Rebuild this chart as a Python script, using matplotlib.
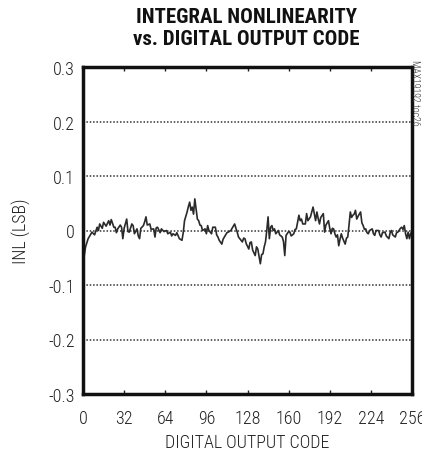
import matplotlib
matplotlib.use("Agg")
import matplotlib.pyplot as plt
from matplotlib import font_manager

# INL trace (code, LSB)
codes = [0, 1, 2, 4, 7, 9, 11, 12, 13, 15, 16, 18, 20, 21, 22, 24, 25, 26, 27, 29,
         30, 31, 32, 34, 35, 36, 38, 39, 40, 42, 43, 44, 45, 47, 48, 49, 50, 52, 53, 55,
         56, 57, 58, 60, 61, 63, 65, 66, 68, 69, 70, 72, 73, 75, 77, 78, 79, 80, 81, 82,
         83, 84, 85, 86, 87, 88, 89, 90, 91, 92, 93, 95, 96, 97, 98, 100, 101, 103, 104, 105,
         106, 108, 109, 110, 112, 113, 115, 117, 118, 119, 120, 121, 122, 124, 125, 126, 127, 129, 130, 131,
         132, 134, 135, 136, 137, 138, 139, 140, 141, 142, 143, 144, 145, 146, 147, 148, 149, 150, 152, 153,
         155, 156, 157, 158, 160, 161, 162, 164, 165, 166, 167, 168, 169, 170, 171, 173, 174, 175, 177, 178,
         179, 180, 181, 182, 183, 184, 185, 187, 188, 189, 191, 192, 193, 194, 195, 196, 197, 198, 199, 200,
         201, 202, 204, 205, 206, 207, 208, 209, 210, 211, 212, 213, 214, 216, 217, 218, 219, 220, 221, 222,
         223, 225, 226, 227, 228, 230, 231, 232, 233, 235, 236, 238, 239, 240, 241, 243, 244, 245, 247, 248,
         249, 250, 251, 252, 253, 254, 255]
inl = [-0.068, -0.045, -0.030, -0.015, -0.003, -0.008, 0.006, 0.000, 0.012, 0.004, 0.015, 0.008, 0.018, 0.010, 0.020, 0.006, 0.006, -0.004, 0.003, 0.010,
       0.006, -0.015, 0.004, 0.021, -0.002, -0.003, 0.012, 0.009, -0.006, 0.003, -0.010, -0.015, 0.004, 0.009, 0.016, 0.025, 0.010, 0.012, 0.002, 0.003,
       -0.012, 0.005, 0.006, -0.004, 0.003, -0.002, 0.000, -0.006, -0.003, -0.010, -0.006, -0.009, -0.004, -0.015, -0.018, -0.004, 0.018, 0.026, 0.034, 0.044,
       0.052, 0.037, 0.043, 0.030, 0.058, 0.040, 0.021, 0.018, 0.010, 0.009, 0.000, 0.003, -0.006, 0.009, 0.000, -0.006, 0.006, 0.006, -0.008, -0.012,
       -0.018, -0.025, -0.016, -0.012, -0.004, -0.003, 0.000, 0.008, 0.012, 0.004, -0.003, -0.012, -0.015, -0.021, -0.014, -0.015, -0.024, -0.034, -0.022, -0.021,
       -0.036, -0.046, -0.030, -0.034, -0.048, -0.061, -0.044, -0.043, -0.030, -0.021, 0.000, 0.025, -0.015, 0.006, 0.009, 0.000, 0.003, -0.006, 0.000, -0.008,
       -0.012, -0.020, -0.046, -0.009, -0.002, -0.003, -0.010, -0.006, 0.002, 0.003, 0.016, 0.028, 0.018, 0.021, 0.012, 0.012, 0.031, 0.018, 0.025, 0.034,
       0.043, 0.030, 0.018, 0.034, 0.022, 0.012, 0.024, 0.031, -0.003, 0.010, 0.018, 0.004, -0.006, 0.004, 0.003, -0.006, -0.012, -0.008, -0.028, -0.016,
       -0.006, -0.014, -0.025, -0.014, -0.012, 0.010, 0.034, 0.024, 0.028, 0.030, 0.037, 0.021, 0.026, 0.034, 0.014, 0.009, 0.002, 0.003, -0.004, -0.006,
       0.000, 0.003, -0.006, -0.009, 0.000, 0.000, -0.008, -0.012, -0.004, -0.003, -0.010, -0.015, -0.004, 0.000, -0.008, -0.012, -0.004, -0.003, 0.004, 0.006,
       0.002, 0.009, -0.006, -0.015, -0.003, -0.015, -0.005]

xticks = [0, 32, 64, 96, 128, 160, 192, 224, 256]
yticks = [-0.3, -0.2, -0.1, 0, 0.1, 0.2, 0.3]
ytick_labels = ["-0.3", "-0.2", "-0.1", "0", "0.1", "0.2", "0.3"]

# look for a narrow font, fall back to DejaVu condensed stretch
names = {f.name for f in font_manager.fontManager.ttflist}
narrow = None
for cand in ["Roboto Condensed", "Liberation Sans Narrow", "Open Sans Condensed", "Noto Sans Condensed"]:
    if cand in names:
        narrow = cand
        break
if narrow is None:
    narrow = "DejaVu Sans"
    plt.rcParams['font.stretch'] = 'condensed'
plt.rcParams['font.family'] = [narrow, 'DejaVu Sans']

fig = plt.figure(figsize=(4.22, 4.56), dpi=100)
ax = fig.add_axes([83/422, 1 - 395/456, 329/422, 327/456])

for y in [-0.2, -0.1, 0, 0.1, 0.2]:
    ax.axhline(y, color='#333333', lw=1.1, linestyle=(0, (1, 1.2)), zorder=1)

ax.plot(codes, inl, color='#2a2a2a', lw=1.2, zorder=2)

ax.set_xlim(0, 256)
ax.set_ylim(-0.3, 0.3)
ax.set_xticks(xticks)
ax.set_xticklabels([str(t) for t in xticks])
ax.set_yticks(yticks)
ax.set_yticklabels(ytick_labels)
ax.tick_params(direction='in', length=3, width=1, top=True, right=False, left=False,
               labelsize=13, colors='#222222')
ax.tick_params(axis='x', pad=11)
ax.tick_params(axis='y', pad=6)
for lab in ax.get_xticklabels() + ax.get_yticklabels():
    lab.set_fontweight('light')
for s in ax.spines.values():
    s.set_linewidth(2.5)
    s.set_color('#111111')

ax.set_xlabel('DIGITAL OUTPUT CODE', fontsize=13, fontweight='light', color='#222222', labelpad=4)
ax.set_ylabel('INL (LSB)', fontsize=13, fontweight='light', color='#222222', labelpad=12)

fig.text(0.583, 0.983, 'INTEGRAL NONLINEARITY\nvs. DIGITAL OUTPUT CODE', ha='center', va='top',
         fontsize=15, fontweight='bold', color='#111111', linespacing=1.22)
fig.text(0.983, 0.868, 'MAX19192 toc26', rotation=270, ha='center', va='top', fontsize=7,
         fontweight='light', color='#333333')

fig.savefig('out.png', dpi=100)
